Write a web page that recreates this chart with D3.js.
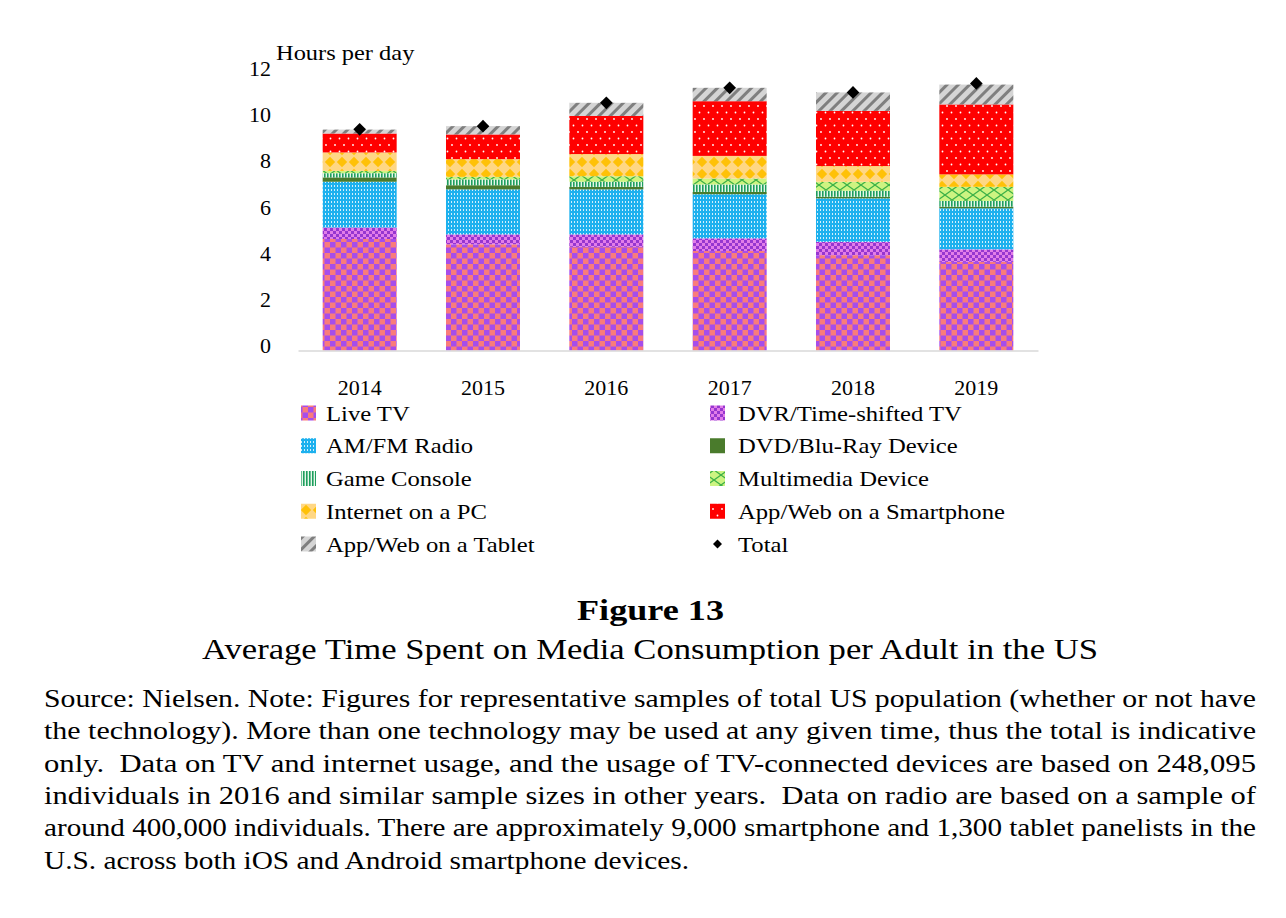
<!DOCTYPE html>
<html>
<head>
<meta charset="utf-8">
<script src="https://cdn.jsdelivr.net/npm/d3@7"></script>
<style>
  html, body { margin: 0; padding: 0; background: #fff; }
  svg text { font-family: "Liberation Serif", "Times New Roman", serif; fill: #000; }
  .tick-lbl { font-size: 22px; }
  .legend-lbl { font-size: 22px; }
  .fig-title { font-size: 29px; font-weight: bold; }
  .fig-sub { font-size: 29px; }
  .note { font-size: 26px; }
</style>
</head>
<body>
<svg id="chart" width="1286" height="918"></svg>
<script>
// Values (hours per day, per adult)
const years = ["2014", "2015", "2016", "2017", "2018", "2019"];
const liveTV     = [4.83, 4.60, 4.49, 4.31, 4.13, 3.84];
const dvr        = [0.50, 0.43, 0.54, 0.55, 0.58, 0.54];
const radio      = [1.98, 1.95, 1.95, 1.91, 1.88, 1.78];
const dvd        = [0.19, 0.18, 0.11, 0.10, 0.07, 0.07];
const gameConsole = [0.18, 0.25, 0.22, 0.32, 0.26, 0.25];
const multimedia = [0.10, 0.11, 0.24, 0.26, 0.39, 0.61];
const internetPC = [0.80, 0.77, 0.96, 0.98, 0.68, 0.54];
const smartphone = [0.82, 1.07, 1.65, 2.37, 2.39, 3.03];
const tablet     = [0.17, 0.36, 0.57, 0.58, 0.80, 0.86];
const totals     = [9.58, 9.72, 10.73, 11.38, 11.18, 11.57];
const yTicks = [0, 2, 4, 6, 8, 10, 12];

const seriesDefs = [
  { key: "liveTV", name: "Live TV", values: liveTV, pat: "p-live" },
  { key: "dvr", name: "DVR/Time-shifted TV", values: dvr, pat: "p-dvr" },
  { key: "radio", name: "AM/FM Radio", values: radio, pat: "p-radio" },
  { key: "dvd", name: "DVD/Blu-Ray Device", values: dvd, pat: "p-dvd" },
  { key: "game", name: "Game Console", values: gameConsole, pat: "p-game" },
  { key: "mm", name: "Multimedia Device", values: multimedia, pat: "p-mm" },
  { key: "pc", name: "Internet on a PC", values: internetPC, pat: "p-pc" },
  { key: "phone", name: "App/Web on a Smartphone", values: smartphone, pat: "p-phone" },
  { key: "tablet", name: "App/Web on a Tablet", values: tablet, pat: "p-tablet" },
];

const noteLines = [
  "Source: Nielsen. Note: Figures for representative samples of total US population (whether or not have",
  "the technology). More than one technology may be used at any given time, thus the total is indicative",
  "only.  Data on TV and internet usage, and the usage of TV-connected devices are based on 248,095",
  "individuals in 2016 and similar sample sizes in other years.  Data on radio are based on a sample of",
  "around 400,000 individuals. There are approximately 9,000 smartphone and 1,300 tablet panelists in the",
  "U.S. across both iOS and Android smartphone devices.",
];

const svg = d3.select("#chart");
svg.append("rect").attr("width", 1286).attr("height", 918).attr("fill", "#fff");

// The original uses Palatino / Computer Modern, both wider than Liberation
// Serif; stretch glyphs a little so text spans about the same width.
function widen(sel, k) {
  sel.each(function () {
    const w = this.getComputedTextLength();
    d3.select(this).attr("textLength", w * k).attr("lengthAdjust", "spacingAndGlyphs");
  });
}

// ---- fill patterns (Excel-like) ----
const defs = svg.append("defs");
function pattern(id, w, h, bg, transform) {
  const p = defs.append("pattern").attr("id", id)
    .attr("patternUnits", "userSpaceOnUse").attr("width", w).attr("height", h);
  if (transform) p.attr("patternTransform", transform);
  p.append("rect").attr("width", w).attr("height", h).attr("fill", bg);
  return p;
}
let p = pattern("p-live", 11, 11, "#F97C7A");
p.append("rect").attr("width", 5.5).attr("height", 5.5).attr("fill", "#A64DEB");
p.append("rect").attr("x", 5.5).attr("y", 5.5).attr("width", 5.5).attr("height", 5.5).attr("fill", "#A64DEB");

p = pattern("p-dvr", 6, 6, "#E27DE8");
p.append("rect").attr("width", 3).attr("height", 3).attr("fill", "#9636D0");
p.append("rect").attr("x", 3).attr("y", 3).attr("width", 3).attr("height", 3).attr("fill", "#9636D0");

p = pattern("p-radio", 3, 4, "#1DB1EE");
p.append("rect").attr("x", 1).attr("y", 1).attr("width", 1).attr("height", 2).attr("fill", "#fff").attr("opacity", 0.8);

pattern("p-dvd", 4, 4, "#4A7B2C");

p = pattern("p-game", 3, 3, "#E6F7EA");
p.append("rect").attr("width", 1.6).attr("height", 3).attr("fill", "#1E9E5E");

p = pattern("p-mm", 14, 10, "#CDF481");
p.append("path").attr("d", "M0,0L14,10M14,0L0,10")
  .attr("stroke", "#3DB147").attr("stroke-width", 1.3).attr("fill", "none");

p = pattern("p-pc", 12, 12, "#FFD784");
p.append("path").attr("d", "M6,0.8L11.2,6L6,11.2L0.8,6Z").attr("fill", "#FFC107");

p = pattern("p-phone", 9, 13, "#FF0000");
p.append("circle").attr("cx", 2).attr("cy", 2).attr("r", 0.9).attr("fill", "#fff");
p.append("circle").attr("cx", 6.5).attr("cy", 8.5).attr("r", 0.9).attr("fill", "#fff");

p = pattern("p-tablet", 8, 8, "#D5D5D5", "rotate(45)");
p.append("rect").attr("width", 3).attr("height", 8).attr("fill", "#7F7F7F");

// ---- scales ----
const x = d3.scaleBand().domain(years).range([298, 1038])
  .paddingInner(0.4).paddingOuter(0.2);
const y = d3.scaleLinear().domain([0, 12]).range([350.5, 73.5]);

const table = years.map((yr, i) => {
  const row = { year: yr };
  seriesDefs.forEach(s => { row[s.key] = s.values[i]; });
  return row;
});
const stacked = d3.stack().keys(seriesDefs.map(s => s.key))(table);

// y axis labels (no line, no ticks)
const yAxis = svg.append("g").attr("transform", "translate(274,0)")
  .call(d3.axisLeft(y).tickValues(yTicks).tickSize(0).tickPadding(3));
yAxis.select(".domain").remove();
yAxis.selectAll("text").attr("class", "tick-lbl").attr("y", -5)
  .style("font-family", '"Liberation Serif", serif').style("font-size", "22px").attr("fill", "#000");

svg.append("text").attr("class", "tick-lbl").attr("x", 276).attr("y", 60)
  .text("Hours per day").call(widen, 1.11);

// bars
stacked.forEach((layer, li) => {
  svg.append("g").selectAll("rect").data(layer).enter().append("rect")
    .attr("x", d => x(d.data.year))
    .attr("y", d => y(d[1]))
    .attr("width", x.bandwidth())
    .attr("height", d => y(d[0]) - y(d[1]))
    .attr("fill", `url(#${seriesDefs[li].pat})`);
});

// x axis
const xAxis = svg.append("g").attr("transform", `translate(0,${y(0)})`)
  .call(d3.axisBottom(x).tickSize(0).tickPadding(29));
xAxis.select(".domain").attr("stroke", "#D9D9D9").attr("stroke-width", 1.3);
xAxis.selectAll("text").attr("class", "tick-lbl")
  .style("font-family", '"Liberation Serif", serif').style("font-size", "22px").attr("fill", "#000");

// totals
const diamond = d3.symbol().type(d3.symbolSquare).size(80);
svg.append("g").selectAll("path").data(totals).enter().append("path")
  .attr("d", diamond)
  .attr("transform", (d, i) => `translate(${x(years[i]) + x.bandwidth() / 2},${y(d)}) rotate(45)`)
  .attr("fill", "#000");

// legend
const legendItems = seriesDefs.map(s => ({ name: s.name, pat: s.pat }))
  .concat([{ name: "Total", pat: null }]);
const colX = [301, 710], rowY0 = 413, rowH = 32.75;
legendItems.forEach((it, i) => {
  const cx = colX[i % 2], cy = rowY0 + rowH * Math.floor(i / 2);
  if (it.pat) {
    svg.append("rect").attr("x", cx).attr("y", cy - 7.5).attr("width", 15).attr("height", 15)
      .attr("fill", `url(#${it.pat})`);
  } else {
    svg.append("path").attr("d", d3.symbol().type(d3.symbolSquare).size(40))
      .attr("transform", `translate(${cx + 7.5},${cy}) rotate(45)`).attr("fill", "#000");
  }
  svg.append("text").attr("class", "legend-lbl")
    .attr("x", cx + (i % 2 ? 28 : 25)).attr("y", cy + 7.5).text(it.name)
    .call(widen, 1.12);
});

// caption
svg.append("text").attr("class", "fig-title").attr("x", 577).attr("y", 620)
  .attr("textLength", 147).attr("lengthAdjust", "spacingAndGlyphs").text("Figure 13");
svg.append("text").attr("class", "fig-sub").attr("x", 202).attr("y", 659)
  .attr("textLength", 896).attr("lengthAdjust", "spacingAndGlyphs")
  .text("Average Time Spent on Media Consumption per Adult in the US");

noteLines.forEach((line, i) => {
  const t = svg.append("text").attr("class", "note").attr("x", 44)
    .attr("y", 707 + i * 32.3).attr("xml:space", "preserve").text(line);
  // justified lines fill the column; the last line keeps natural (widened) width
  t.attr("textLength", i < noteLines.length - 1 ? 1212 : 645)
    .attr("lengthAdjust", "spacingAndGlyphs");
});
</script>
</body>
</html>
